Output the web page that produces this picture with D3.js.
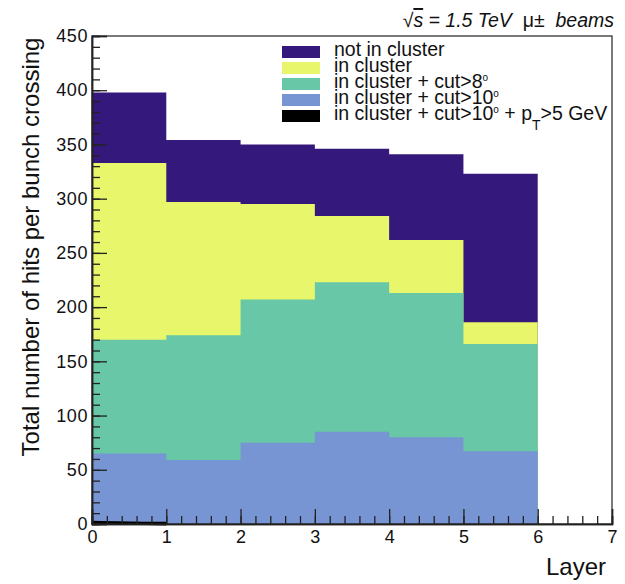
<!DOCTYPE html>
<html>
<head>
<meta charset="utf-8">
<script src="https://cdn.jsdelivr.net/npm/d3@7"></script>
<style>
  body { margin: 0; background: #fff; }
  svg { display: block; font-family: "Liberation Sans", Arial, sans-serif; }
</style>
</head>
<body>
<svg></svg>
<script>
const w = 625
const h = 584

// bins: layer 0..6, one value per bin
const binEdges = [0, 1, 2, 3, 4, 5, 6]
const notInCluster = [398, 354, 350, 346, 341, 323]
const inCluster = [333, 297, 295, 284, 262, 186]
const inClusterCut8 = [170, 174, 207, 223, 213, 166]
const inClusterCut10 = [65, 59, 75, 85, 80, 67]
const inClusterCut10Pt = [2, 0, 0, 0, 0, 0]

const seriesNames = ['not in cluster', 'in cluster', 'in cluster + cut>8', 'in cluster + cut>10', 'in cluster + cut>10 + pT>5 GeV']
const seriesColors = ['#34187b', '#e7f66b', '#67c7a6', '#7895d3', '#000000']
const seriesValues = [notInCluster, inCluster, inClusterCut8, inClusterCut10, inClusterCut10Pt]

const xTicks = [0, 1, 2, 3, 4, 5, 6, 7]
const yTicks = [0, 50, 100, 150, 200, 250, 300, 350, 400, 450]

const svg = d3.select('svg')
  .attr('width', w)
  .attr('height', h)

const margin = {top: 36, right: 13, bottom: 60, left: 92}
const innerWidth = w - margin.left - margin.right
const innerHeight = h - margin.top - margin.bottom

const xScale = d3.scaleLinear().domain([0, 7]).range([0, innerWidth])
const yScale = d3.scaleLinear().domain([0, 450]).range([innerHeight, 0])

const g = svg.append('g')
  .attr('transform', `translate(${margin.left}, ${margin.top})`)

// histograms, drawn on top of each other
const area = d3.area()
  .x(d => xScale(d.x))
  .y0(innerHeight)
  .y1(d => yScale(d.y))
  .curve(d3.curveStepAfter)

seriesValues.forEach((vals, i) => {
  const pts = binEdges.map((e, j) => ({x: e, y: vals[Math.min(j, vals.length - 1)]}))
  g.append('path')
    .datum(pts)
    .attr('d', area)
    .attr('fill', seriesColors[i])
})

// black bin drawn as thick line at bottom
g.append('line')
  .attr('x1', xScale(0)).attr('x2', xScale(1))
  .attr('y1', yScale(inClusterCut10Pt[0]) + 0.5).attr('y2', innerHeight)
  .attr('stroke', '#000').attr('stroke-width', 3)

// frame
g.append('rect')
  .attr('width', innerWidth)
  .attr('height', innerHeight)
  .attr('fill', 'none')
  .attr('stroke', '#222')
  .attr('stroke-width', 1.2)

// y axis: minor + major ticks inside, labels outside
const yMinor = g.append('g').call(d3.axisLeft(yScale).tickValues(d3.range(0, 451, 10)).tickSize(-8).tickFormat(''))
const yMajor = g.append('g').call(d3.axisLeft(yScale).tickValues(yTicks).tickSize(-15).tickFormat(d3.format('d')))
yMinor.selectAll('.tick text').remove()
;[yMinor, yMajor].forEach(a => {
  a.select('.domain').attr('stroke', '#222').attr('stroke-width', 1.5)
  a.selectAll('.tick line').attr('stroke', '#222').attr('stroke-width', 1.3)
})
yMajor.selectAll('.tick text')
  .attr('x', -4)
  .attr('font-size', 18)
  .attr('fill', '#111')
  .attr('letter-spacing', 0.6)

// x axis
const xMinor = g.append('g')
  .attr('transform', `translate(0, ${innerHeight})`)
  .call(d3.axisBottom(xScale).tickValues(d3.range(0, 7.01, 0.2)).tickSize(-8).tickFormat(''))
const xMajor = g.append('g')
  .attr('transform', `translate(0, ${innerHeight})`)
  .call(d3.axisBottom(xScale).tickValues(xTicks).tickSize(-15).tickFormat(d3.format('d')))
xMinor.selectAll('.tick text').remove()
;[xMinor, xMajor].forEach(a => {
  a.select('.domain').attr('stroke', '#222').attr('stroke-width', 1.5)
  a.selectAll('.tick line').attr('stroke', '#222').attr('stroke-width', 1.3)
})
xMajor.selectAll('.tick text')
  .attr('y', 6)
  .attr('font-size', 18)
  .attr('fill', '#111')

// axis titles
svg.append('text')
  .attr('x', 606).attr('y', 575)
  .attr('text-anchor', 'end')
  .attr('font-size', 24)
  .attr('fill', '#111')
  .text('Layer')

svg.append('text')
  .attr('transform', 'translate(39, 247) rotate(-90)')
  .attr('text-anchor', 'middle')
  .attr('font-size', 24)
  .attr('fill', '#111')
  .text('Total number of hits per bunch crossing')

// header
const header = svg.append('text')
  .attr('x', 614).attr('y', 27)
  .attr('text-anchor', 'end')
  .attr('font-size', 19.5)
  .attr('fill', '#111')
  .style('white-space', 'pre')
header.append('tspan').text('\u221A')
header.append('tspan').attr('font-style', 'italic').attr('text-decoration', 'overline').text('s')
header.append('tspan').attr('font-style', 'italic').text(' = 1.5 TeV  ')
header.append('tspan').text('\u03BC\u00B1  ')
header.append('tspan').attr('font-style', 'italic').text('beams')

// legend
const legend = svg.append('g').attr('transform', 'translate(282, 46)')
const rowH = 16
seriesNames.forEach((name, i) => {
  const row = legend.append('g').attr('transform', `translate(0, ${i * rowH})`)
  row.append('rect')
    .attr('width', 38).attr('height', 12)
    .attr('fill', seriesColors[i])
  const t = row.append('text')
    .attr('x', 52).attr('y', 9.5)
    .attr('font-size', 19.5)
    .attr('fill', '#111')
  if (i < 2) {
    t.text(name)
  } else if (i === 2) {
    t.append('tspan').text('in cluster + cut>8')
    t.append('tspan').attr('font-size', 10).attr('dy', -7).text('o')
  } else if (i === 3) {
    t.append('tspan').text('in cluster + cut>10')
    t.append('tspan').attr('font-size', 10).attr('dy', -7).text('o')
  } else {
    t.append('tspan').text('in cluster + cut>10')
    t.append('tspan').attr('font-size', 10).attr('dy', -7).text('o')
    t.append('tspan').attr('dy', 7).text(' + p')
    t.append('tspan').attr('font-size', 14).attr('dy', 10).text('T')
    t.append('tspan').attr('dy', -10).text('>5 GeV')
  }
})
</script>
</body>
</html>
